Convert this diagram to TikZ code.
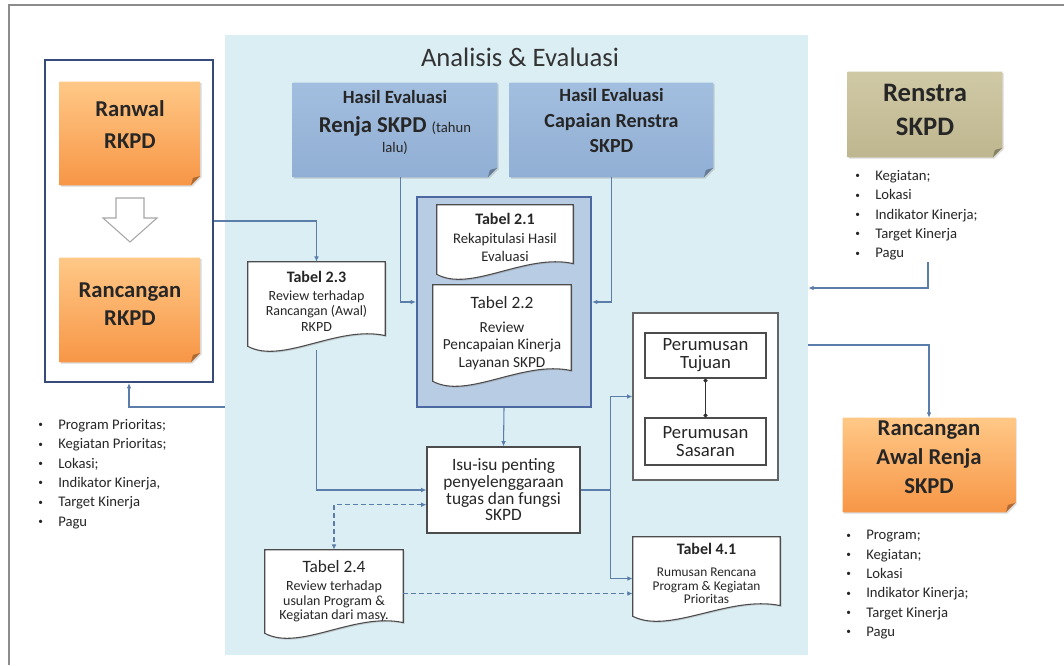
\documentclass[tikz,border=0pt]{standalone}
\usepackage{fontspec}
\setmainfont{Carlito}
\usetikzlibrary{arrows.meta,calc,shadows}

\pgfdeclarelayer{back}
\pgfdeclarelayer{docs}
\pgfsetlayers{back,docs,main}

\definecolor{latar}{RGB}{219,238,244}
\definecolor{garisbiru}{RGB}{90,125,170}
\definecolor{bingkai}{RGB}{55,75,120}
\definecolor{wadahbiru}{RGB}{184,204,228}
\definecolor{wadahgaris}{RGB}{75,105,160}
\definecolor{oranyeatas}{RGB}{255,200,135}
\definecolor{oranyebawah}{RGB}{247,150,70}
\definecolor{biruatas}{RGB}{162,190,223}
\definecolor{birubawah}{RGB}{145,175,212}
\definecolor{tanatas}{RGB}{208,201,166}
\definecolor{tanbawah}{RGB}{190,182,142}
\definecolor{teks}{RGB}{38,38,38}

\tikzset{
  notebox/.style={rectangle, align=center, text=teks, inner sep=0pt},
  dokbox/.style={rectangle, align=center, text=teks, inner sep=0pt},
  bayang/.style={drop shadow={opacity=.3, shadow xshift=1pt, shadow yshift=-1pt}},
  kotak/.style={rectangle, draw=black!70, fill=white, line width=.8pt, align=center, text=teks, inner sep=0pt, bayang},
  garis/.style={draw=garisbiru, line width=.8pt},
  panah/.style={garis, ->},
  putus/.style={panah, dash pattern=on 3.5pt off 2.5pt},
  duaarah/.style={garis, <->, dash pattern=on 3.5pt off 2.5pt},
  titik/.style={draw=black!80, line width=.9pt, {Circle[length=3pt]}-{Circle[length=3pt]}},
  daftar/.style={align=left, anchor=north west, inner sep=0pt, text=teks, font=\fontsize{11}{14.5}\selectfont}
}

% depth at the end of a node text, lifts the text a little
\newcommand{\ekor}[1]{\rule[-#1]{0pt}{#1}}
\newcommand{\butir}{\makebox[15pt][l]{\raisebox{1.2pt}{\fontsize{7}{7}\selectfont\textbullet}}}

% wavy document behind a node
\newcommand{\dokumen}[1]{%
  \begin{pgfonlayer}{docs}
    \filldraw[fill=white, draw=black!70, line width=.8pt, bayang]
      (#1.north west) -- (#1.north east) -- ([yshift=11pt]#1.south east)
      .. controls ($(#1.south)!.3!(#1.south east)+(0pt,19pt)$)
      and ($(#1.south west)!.5!(#1.south)+(0pt,-11pt)$) .. ([yshift=3pt]#1.south west) -- cycle;
  \end{pgfonlayer}}

% note with a folded corner behind a node
\newcommand{\catatan}[3]{%
  \begin{pgfonlayer}{docs}
    \shade[top color=#2, bottom color=#3, bayang]
      (#1.north west) -- (#1.north east) -- ([yshift=7pt]#1.south east)
      -- ([xshift=-7pt]#1.south east) -- (#1.south west) -- cycle;
    \fill[#3!70!black] ([yshift=7pt]#1.south east) -- ([xshift=-7pt]#1.south east)
      -- ([xshift=-5.5pt,yshift=5.5pt]#1.south east) -- cycle;
  \end{pgfonlayer}}

\begin{document}
\begin{tikzpicture}[x=.75pt, y=-.75pt, >={Latex[length=4pt,width=3.5pt]}]
	\useasboundingbox (0,0) rectangle (1064,665);
	\draw[black!45, line width=1pt] (9,665) -- (9,5) -- (1064,5);

	\begin{pgfonlayer}{back}
		\node[rectangle, fill=latar, minimum width=437.25pt, minimum height=465pt] (analisis) at (516.5,345) {};
		\node[rectangle, fill=white, draw=bingkai, line width=1.6pt, minimum width=126pt, minimum height=241.5pt] (rkpdbox) at (129,221) {};
		\node[rectangle, fill=wadahbiru, draw=wadahgaris, line width=1.6pt, minimum width=130.5pt, minimum height=157.5pt] (wadah) at (504,302) {};
		\node[rectangle, fill=white, draw=black!60, line width=.8pt, bayang, minimum width=108.75pt, minimum height=125.25pt] (tujuanbox) at (705.5,396.5) {};
	\end{pgfonlayer}

	\node[text=black!80, font=\fontsize{20}{24}\selectfont] (judul) at (520,57) {Analisis \& Evaluasi};

	% left side
	\node[notebox, font=\bfseries\fontsize{17}{24}\selectfont, minimum width=105pt, minimum height=77.25pt] (ranwal) at (130,133.5) {Ranwal\\RKPD\ekor{13pt}};
	\catatan{ranwal}{oranyeatas}{oranyebawah}
	\filldraw[fill=white, draw=black!35, line width=.8pt] (116,198) -- (144,198) -- (144,218) -- (157,218) -- (130,242) -- (103,218) -- (116,218) -- cycle;
	\node[notebox, font=\bfseries\fontsize{17}{21}\selectfont, minimum width=105pt, minimum height=78pt] (ranc) at (130,310) {Rancangan\\RKPD\ekor{9pt}};
	\catatan{ranc}{oranyeatas}{oranyebawah}

	\node[daftar] (listrkpd) at (38,419) {\butir Program Prioritas;\\ \butir Kegiatan Prioritas;\\ \butir Lokasi;\\ \butir Indikator Kinerja,\\ \butir Target Kinerja\\ \butir Pagu};

	% top notes
	\node[notebox, font=\bfseries\fontsize{17}{22}\selectfont, minimum width=153pt, minimum height=70.5pt] (hasilrenja) at (395,130)
		{{\fontsize{14}{22}\selectfont Hasil Evaluasi}\\ Renja SKPD {\mdseries\fontsize{11}{22}\selectfont (tahun}\\[-7pt] {\mdseries\fontsize{11}{22}\selectfont lalu)}\ekor{13pt}};
	\catatan{hasilrenja}{biruatas}{birubawah}
	\node[notebox, font=\bfseries\fontsize{15}{19}\selectfont, minimum width=152.25pt, minimum height=70.5pt] (capaian) at (611.5,130)
		{{\fontsize{14}{19}\selectfont Hasil Evaluasi}\\ Capaian Renstra\\ SKPD\ekor{14pt}};
	\catatan{capaian}{biruatas}{birubawah}

	% right side
	\node[notebox, font=\bfseries\fontsize{20}{26}\selectfont, minimum width=115.5pt, minimum height=63.75pt] (renstra) at (925,114.5) {Renstra\\SKPD\ekor{7pt}};
	\catatan{renstra}{tanatas}{tanbawah}
	\node[daftar] (listrenstra) at (855,170) {\butir Kegiatan;\\ \butir Lokasi\\ \butir Indikator Kinerja;\\ \butir Target Kinerja\\ \butir Pagu};

	\node[notebox, font=\bfseries\fontsize{17}{22}\selectfont, minimum width=129pt, minimum height=70.5pt] (awalrenja) at (929,465) {Rancangan\\Awal Renja\\SKPD\ekor{12pt}};
	\catatan{awalrenja}{oranyeatas}{oranyebawah}
	\node[daftar] (listawal) at (846,530) {\butir Program;\\ \butir Kegiatan;\\ \butir Lokasi\\ \butir Indikator Kinerja;\\ \butir Target Kinerja\\ \butir Pagu};

	% tables
	\node[dokbox, font=\fontsize{11}{14}\selectfont, minimum width=102pt, minimum height=54.75pt] (tabel21) at (505,241.5)
		{{\bfseries\fontsize{12}{14}\selectfont Tabel 2.1}\\ Rekapitulasi Hasil\\ Evaluasi\ekor{6pt}};
	\dokumen{tabel21}
	\node[dokbox, font=\fontsize{11.5}{13}\selectfont, minimum width=103.5pt, minimum height=75pt] (tabel22) at (502,335)
		{{\fontsize{13}{15}\selectfont Tabel 2.2}\\[5pt] Review\\ Pencapaian Kinerja\\ Layanan SKPD\ekor{5pt}};
	\dokumen{tabel22}
	\node[dokbox, font=\fontsize{10.5}{11.5}\selectfont, minimum width=102.75pt, minimum height=66pt] (tabel23) at (316.5,306)
		{{\bfseries\fontsize{12}{14}\selectfont Tabel 2.3}\\[2pt] Review terhadap\\ Rancangan (Awal)\\ RKPD\ekor{7pt}};
	\dokumen{tabel23}
	\node[dokbox, font=\fontsize{10.5}{10.8}\selectfont, minimum width=103.5pt, minimum height=65.25pt] (tabel24) at (334,593.5)
		{{\fontsize{13}{15}\selectfont Tabel 2.4}\\[2.5pt] Review terhadap\\ usulan Program \&\\ Kegiatan dari masy.\ekor{5pt}};
	\dokumen{tabel24}
	\node[dokbox, font=\fontsize{10}{10}\selectfont, minimum width=110.25pt, minimum height=62.25pt] (tabel41) at (706.5,578.5)
		{{\bfseries\fontsize{12}{14}\selectfont Tabel 4.1}\\[7pt] Rumusan Rencana\\ Program \& Kegiatan\\ Prioritas\ekor{8pt}};
	\dokumen{tabel41}

	% boxes
	\node[kotak, font=\fontsize{13}{12.5}\selectfont, minimum width=114.75pt, minimum height=64.5pt] (isu) at (503.5,490)
		{Isu-isu penting\\ penyelenggaraan\\ tugas dan fungsi\\ SKPD};
	\node[kotak, font=\fontsize{14}{13.5}\selectfont, minimum width=90.75pt, minimum height=33.75pt] (tujuan) at (705.5,355.5) {Perumusan\\ Tujuan};
	\node[kotak, font=\fontsize{14}{13.5}\selectfont, minimum width=90.75pt, minimum height=35.25pt] (sasaran) at (705.5,441.5) {Perumusan\\ Sasaran};

	% connectors
	\draw[panah] (rkpdbox.east) -| (tabel23.north);
	\draw[panah] ([xshift=4pt]hasilrenja.south) |- (wadah.west);
	\draw[panah] (capaian.south) |- (wadah.east);
	\coordinate (renstraujung) at (928,262);
	\draw[panah] (renstraujung) |- (analisis.east |- 0,288);
	\draw[panah] (analisis.east) -| (awalrenja.north);
	\draw[panah] (analisis.west |- 0,407) -| (rkpdbox.south);
	\draw[panah] (tabel23.south) |- (isu.west);
	\draw[duaarah] ([yshift=-11pt]isu.west) -| (tabel24.north);
	\draw[panah] (wadah.south) -- (isu.north);
	\coordinate (cabang) at ([xshift=22.5pt]isu.east);
	\draw[garis] (isu.east) -- (cabang);
	\draw[panah] (cabang) |- (tujuanbox.west);
	\draw[panah] (cabang) |- (tabel41.west);
	\draw[putus] (tabel24.east) -- (tabel24.east -| tabel41.west);
	\draw[titik] (tujuan.south) -- (sasaran.north);

\end{tikzpicture}
\end{document}
